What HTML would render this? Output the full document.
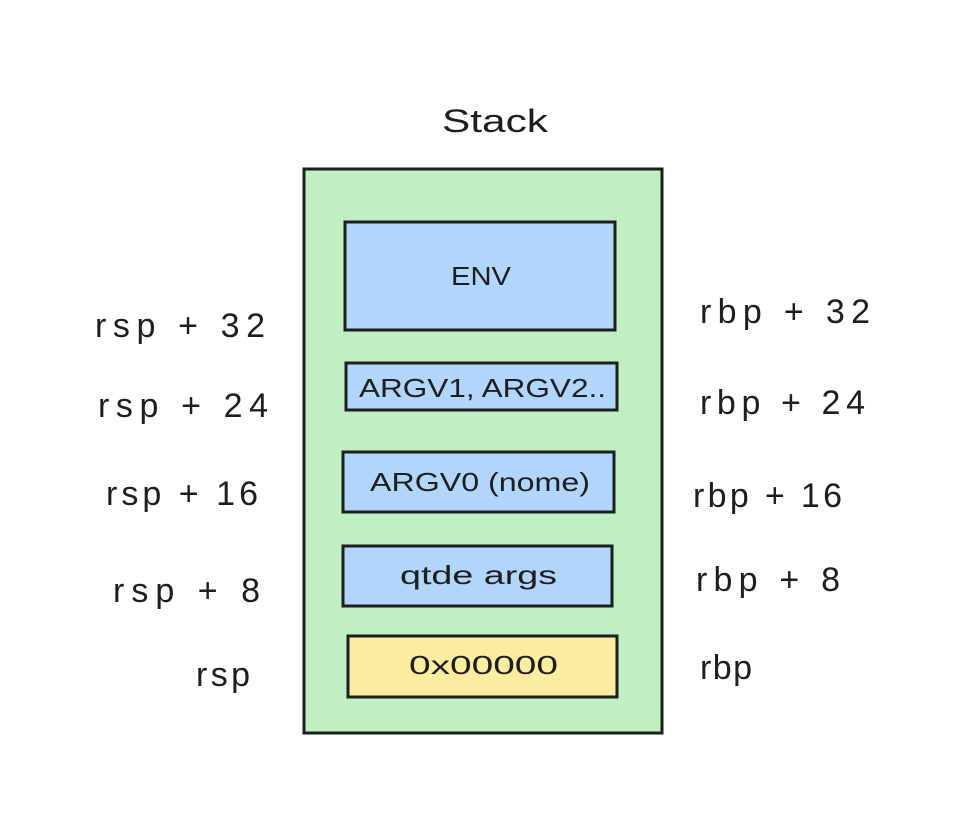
<!DOCTYPE html>
<html><head><meta charset="utf-8"><style>
html,body{margin:0;padding:0;background:#fff;}
svg{display:block;}
text{font-family:"Liberation Sans",sans-serif;fill:#1e1e1e;}
</style></head><body>
<svg width="964" height="816" viewBox="0 0 964 816" xmlns="http://www.w3.org/2000/svg">
<rect x="0" y="0" width="964" height="816" fill="#fff"/>
<text x="442" y="132" font-size="32" textLength="106" lengthAdjust="spacingAndGlyphs">Stack</text>
<rect x="304" y="169" width="358" height="564" fill="#c0f0c2" stroke="#1e1e1e" stroke-width="3"/>
<rect x="345" y="222" width="270" height="108" fill="#b1d6fb" stroke="#1e1e1e" stroke-width="3"/>
<rect x="346" y="363" width="271" height="47" fill="#b1d6fb" stroke="#1e1e1e" stroke-width="3"/>
<rect x="343" y="452" width="271" height="60" fill="#b1d6fb" stroke="#1e1e1e" stroke-width="3"/>
<rect x="343" y="546" width="269" height="60" fill="#b1d6fb" stroke="#1e1e1e" stroke-width="3"/>
<rect x="348" y="636" width="269" height="61" fill="#fcec9f" stroke="#1e1e1e" stroke-width="3"/>
<g font-size="26">
<text x="451" y="285" textLength="60" lengthAdjust="spacingAndGlyphs">ENV</text>
<text x="359" y="397" textLength="247" lengthAdjust="spacingAndGlyphs">ARGV1, ARGV2..</text>
<text x="370" y="491" textLength="220" lengthAdjust="spacingAndGlyphs">ARGV0 (nome)</text>
<text x="400" y="584" textLength="157" lengthAdjust="spacingAndGlyphs">qtde args</text>
<text x="409" y="674" textLength="149" lengthAdjust="spacingAndGlyphs">0x00000</text>
</g>
<g font-size="34">
<text x="95" y="337" textLength="170" lengthAdjust="spacing">rsp + 32</text>
<text x="98" y="417" textLength="170" lengthAdjust="spacing">rsp + 24</text>
<text x="106" y="505" textLength="152" lengthAdjust="spacing">rsp + 16</text>
<text x="113" y="602" textLength="147" lengthAdjust="spacing">rsp + 8</text>
<text x="196" y="686" textLength="54" lengthAdjust="spacing">rsp</text>
<text x="700" y="323" textLength="170" lengthAdjust="spacing">rbp + 32</text>
<text x="700" y="414" textLength="165" lengthAdjust="spacing">rbp + 24</text>
<text x="693" y="507" textLength="149" lengthAdjust="spacing">rbp + 16</text>
<text x="696" y="591" textLength="144" lengthAdjust="spacing">rbp + 8</text>
<text x="700" y="679" textLength="52" lengthAdjust="spacing">rbp</text>
</g>
</svg>
</body></html>
